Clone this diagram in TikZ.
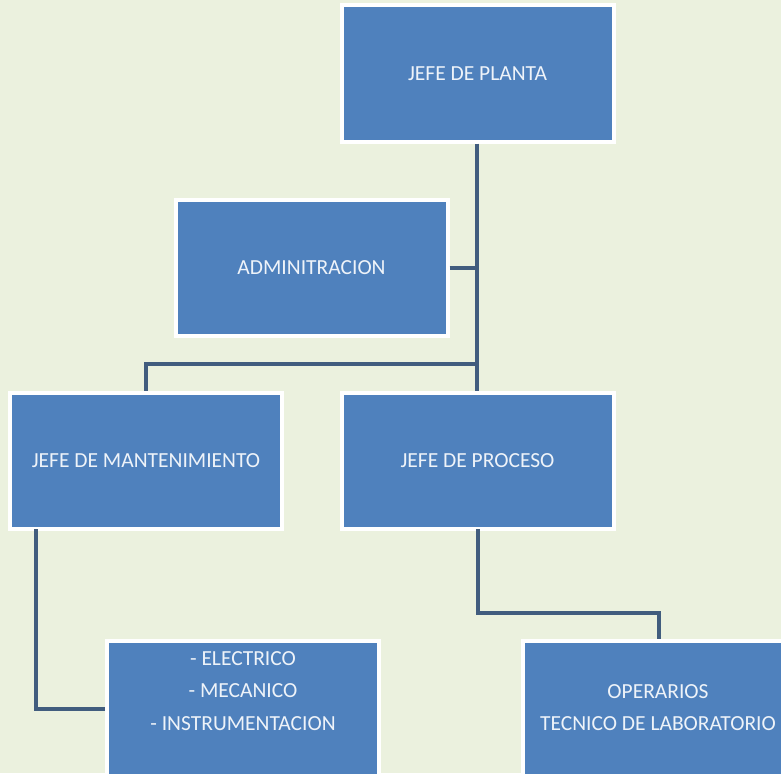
\documentclass[tikz,border=0pt]{standalone}
\usepackage{fontspec}
\setmainfont{Carlito}
\definecolor{bgc}{HTML}{EBF1DE}
\definecolor{boxc}{HTML}{4F81BD}
\definecolor{linec}{HTML}{415D7E}
\definecolor{txtc}{HTML}{EEF3F9}
\tikzset{
  orgbox/.style={draw=white, line width=4pt, fill=boxc, rectangle, inner sep=0pt,
    minimum width=272pt, minimum height=136pt, text=txtc,
    font=\fontsize{21.5}{32.5}\selectfont, align=center},
  txtlbl/.style={text=txtc, font=\fontsize{21.5}{32.5}\selectfont, align=center, inner sep=0pt},
  conn/.style={draw=linec, line width=4pt, line join=miter}
}
\begin{document}
\begin{tikzpicture}[x=1pt,y=-1pt]
\fill[bgc] (0,0) rectangle (781,773);
\useasboundingbox (0,0) rectangle (781,773);
\node[orgbox] (planta) at (477.5,73.5) {JEFE DE PLANTA};
\node[orgbox] (admin) at (311.5,267.5) {ADMINITRACION};
\node[orgbox] (mant) at (146,461) {JEFE DE MANTENIMIENTO};
\node[orgbox] (proc) at (477.5,461) {JEFE DE PROCESO};
\node[orgbox] (elec) at (243,709) {};
\node[orgbox] (oper) at (659,709) {};
\node[txtlbl] (electxt) at (243,691) {- ELECTRICO\\- MECANICO\\- INSTRUMENTACION};
\node[txtlbl] (opertxt) at (658,707.5) {OPERARIOS\\TECNICO DE LABORATORIO};
\coordinate (j1) at (477,364);
\coordinate (j2) at (146,364);
\coordinate (j3) at (477,267.5);
\path[conn] (planta.south -| j1) -- (proc.north -| j1);
\path[conn] (admin.east) -- (j3);
\path[conn] (j1) -- (j2) -- (mant.north -| j2);
\coordinate (m1) at (36,529);
\path[conn] (m1) |- (elec.west);
\coordinate (p1) at (478,529);
\coordinate (p2) at (478,613);
\path[conn] (p1) -- (p2) -| (oper.north);
\end{tikzpicture}
\end{document}
